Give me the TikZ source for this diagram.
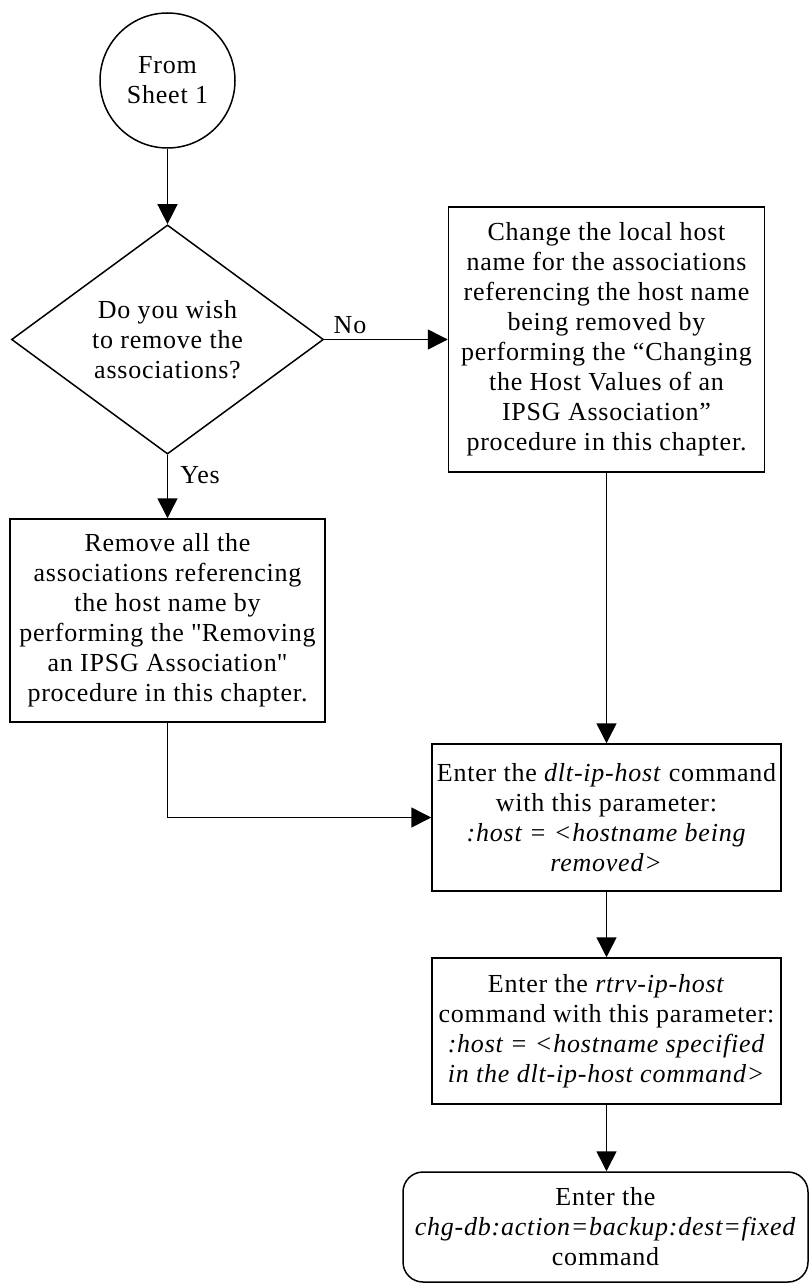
\documentclass[tikz,border=0pt]{standalone}
\usepackage{fontspec}
\setmainfont{Liberation Serif}[LetterSpace=3]
\usetikzlibrary{shapes.geometric,arrows.meta}

\begin{document}
\begin{tikzpicture}[x=0.5pt,y=-0.5pt,
  every node/.style={font=\fontsize{13}{15}\selectfont},
  box/.style={draw,line width=0.75pt,align=center,inner sep=0pt},
  flow/.style={line width=0.75pt,-{Triangle[length=10pt,width=10pt]}},
  lbl/.style={inner sep=1pt}]
  \useasboundingbox (0,0) rectangle (809,1283);
  % left column
  \node[box,circle,minimum size=67.5pt] (start) at (167.5,80.5) {From\\Sheet 1};
  \node[box,diamond,minimum width=156pt,minimum height=110.5pt] (ask) at (167.5,339.5)
    {Do you wish\\to remove the\\associations?};
  \node[box,minimum width=157.5pt,minimum height=101.5pt] (remove) at (167.5,620.5)
    {Remove all the\\associations referencing\\the host name by\\performing the \textquotedbl Removing\\an IPSG Association\textquotedbl\\procedure in this chapter.};
  % right column
  \node[box,minimum width=158pt,minimum height=132.5pt] (change) at (606.5,339.5)
    {Change the local host\\name for the associations\\referencing the host name\\being removed by\\performing the “Changing\\the Host Values of an\\IPSG Association”\\procedure in this chapter.};
  \node[box,minimum width=174.5pt,minimum height=73.5pt] (dlt) at (606.5,817.5)
    {Enter the \textit{dlt-ip-host} command\\with this parameter:\\\textit{:host = <hostname being}\\\textit{removed>}};
  \node[box,minimum width=174.5pt,minimum height=73pt] (rtrv) at (606.5,1031)
    {Enter the \textit{rtrv-ip-host}\\command with this parameter:\\\textit{:host = <hostname specified}\\\textit{in the dlt-ip-host command>}};
  \node[box,rounded corners=10pt,minimum width=202.5pt,minimum height=55pt] (backup) at (605.5,1227)
    {Enter the\\\textit{chg-db:action=backup:dest=fixed}\\command};
  % labels
  \node[lbl] (no) at (350,325) {No};
  \node[lbl] (yes) at (200,475) {Yes};
  % connectors
  \draw[flow] (start) -- (ask);
  \draw[flow] (ask.east) -- (change.west);
  \draw[flow] (ask) -- (remove);
  \draw[flow] (remove.south) |- (dlt.west);
  \draw[flow] (change) -- (dlt);
  \draw[flow] (dlt) -- (rtrv);
  \draw[flow] (rtrv.south) -- (rtrv.south |- backup.north);
\end{tikzpicture}
\end{document}
